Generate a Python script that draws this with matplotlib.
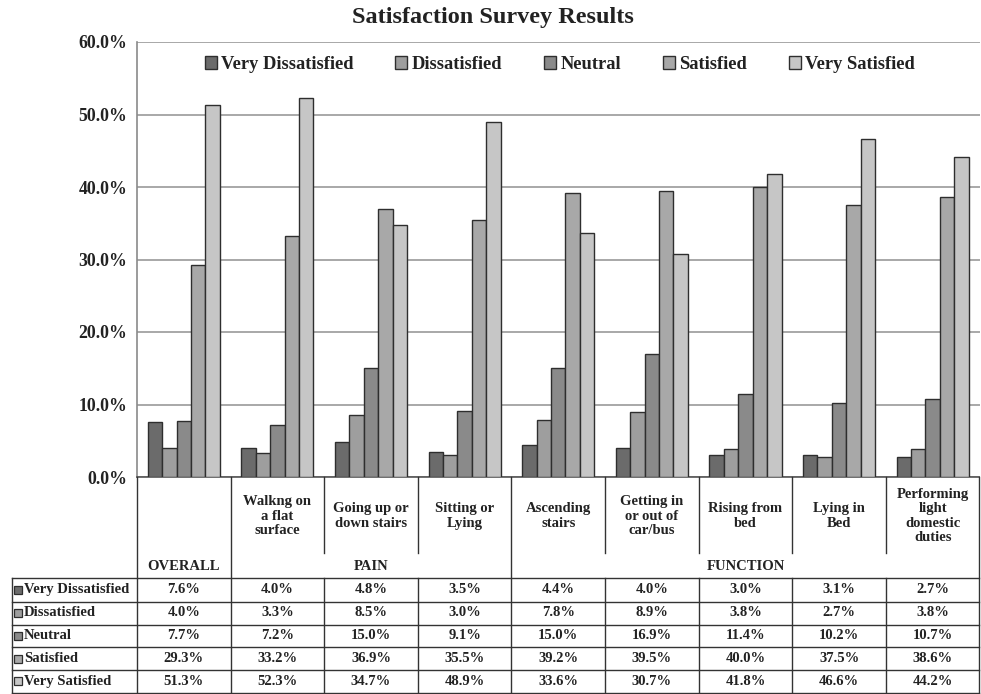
import matplotlib
matplotlib.use("Agg")
import matplotlib.pyplot as plt
import matplotlib.transforms as mtransforms
from matplotlib.lines import Line2D
import numpy as np

plt.rcParams['font.family'] = ['Liberation Serif', 'DejaVu Serif']
plt.rcParams['font.weight'] = 'bold'

# ---- data ----
series = ["Very Dissatisfied", "Dissatisfied", "Neutral", "Satisfied", "Very Satisfied"]
categories = ["", "Walkng on\na flat\nsurface", "Going up or\ndown stairs", "Sitting or\nLying",
              "Ascending\nstairs", "Getting in\nor out of\ncar/bus", "Rising from\nbed",
              "Lying in\nBed", "Performing\nlight\ndomestic\nduties"]
groups = ["OVERALL", "PAIN", "FUNCTION"]
group_spans = [(0, 0), (1, 3), (4, 8)]
very_dissatisfied = [7.6, 4.0, 4.8, 3.5, 4.4, 4.0, 3.0, 3.1, 2.7]
dissatisfied = [4.0, 3.3, 8.5, 3.0, 7.8, 8.9, 3.8, 2.7, 3.8]
neutral = [7.7, 7.2, 15.0, 9.1, 15.0, 16.9, 11.4, 10.2, 10.7]
satisfied = [29.3, 33.2, 36.9, 35.5, 39.2, 39.5, 40.0, 37.5, 38.6]
very_satisfied = [51.3, 52.3, 34.7, 48.9, 33.6, 30.7, 41.8, 46.6, 44.2]
values = [very_dissatisfied, dissatisfied, neutral, satisfied, very_satisfied]
yticks = [0, 10, 20, 30, 40, 50, 60]

colors = ["#6b6b6b", "#9e9e9e", "#8a8a8a", "#a8a8a8", "#c6c6c6"]
edge = "#2e2e2e"
txt = "#222222"

W, H = 981, 694
fig = plt.figure(figsize=(W / 100, H / 100), dpi=100)
ax_left, ax_right, ax_top, ax_bot = 137, 979.5, 42, 477
ax = fig.add_axes([ax_left / W, 1 - ax_bot / H, (ax_right - ax_left) / W, (ax_bot - ax_top) / H])

n = len(categories)
x = np.arange(n)
bw = 0.154
for k, (name, vals) in enumerate(zip(series, values)):
    ax.bar(x + (k - 2) * bw, vals, width=bw, color=colors[k], edgecolor=edge,
           linewidth=1.0, label=name, zorder=3)

ax.set_xlim(-0.5, n - 0.5)
ax.set_ylim(0, 60)
ax.set_yticks(yticks)
ax.set_yticklabels([f"{v:.1f}%" for v in yticks], fontsize=12.8, fontweight='bold', color=txt)
ax.set_xticks([])
ax.yaxis.grid(True, color="#9a9a9a", linewidth=1.2, zorder=0)
ax.tick_params(axis='y', length=0, pad=7)
for s in ['top', 'right']:
    ax.spines[s].set_visible(False)
ax.spines['left'].set_color("#8a8a8a")
ax.spines['left'].set_linewidth(1.2)
ax.spines['bottom'].set_color("#555555")
ax.spines['bottom'].set_linewidth(1.2)

leg = ax.legend(loc='center', bbox_to_anchor=(0.502, 0.948), ncol=5, frameon=False,
                fontsize=13.3, handlelength=0.65, handleheight=0.65, handletextpad=0.25,
                columnspacing=2.25, borderaxespad=0)
for t in leg.get_texts():
    t.set_fontweight('bold')
    t.set_color(txt)

fig.text(0.502, 1 - 18 / H, "Satisfaction Survey Results", ha='center', va='center',
         fontsize=17.5, fontweight='bold', color=txt)

# ---- table below ----
tr = mtransforms.blended_transform_factory(ax.transData, fig.transFigure)
def fy(py):
    return 1 - py / H

colw_px = (ax_right - ax_left) / n
left_x = -0.5 - (ax_left - 12) / colw_px
lc = "#333333"
lw = 1.0

def line(xs, ys):
    fig.add_artist(Line2D(xs, [fy(v) for v in ys], transform=tr, color=lc, linewidth=lw, clip_on=False))

row_lines = [578.3, 601.5, 624.5, 647.3, 670.0, 692.5]
for yy in row_lines:
    line([left_x, n - 0.5], [yy, yy])
line([left_x, left_x], [row_lines[0], row_lines[-1]])
group_bounds = [-0.5] + [g[1] + 0.5 for g in group_spans]
for b in np.arange(-0.5, n, 1.0):
    if any(abs(b - g) < 1e-6 for g in group_bounds):
        line([b, b], [ax_bot, row_lines[-1]])
    else:
        line([b, b], [ax_bot, 553])
        line([b, b], [row_lines[0], row_lines[-1]])

tfs = 10.5
for i, c in enumerate(categories):
    if c:
        fig.text(i, fy(516), c, transform=tr, ha='center', va='center', fontsize=tfs,
                 fontweight='bold', linespacing=1.14, color=txt)
for g, (a, b) in zip(groups, group_spans):
    fig.text((a + b) / 2, fy(567), g, transform=tr, ha='center', va='center', fontsize=tfs,
             fontweight='bold', color=txt)

for r, (name, vals) in enumerate(zip(series, values)):
    yc = (row_lines[r] + row_lines[r + 1]) / 2
    fig.add_artist(Line2D([left_x + 0.065], [fy(yc)], transform=tr, marker='s', markersize=5.5,
                          markerfacecolor=colors[r], markeredgecolor=edge, markeredgewidth=0.9,
                          linestyle='none', clip_on=False))
    fig.text(left_x + 0.125, fy(yc), name, transform=tr, ha='left', va='center', fontsize=tfs,
             fontweight='bold', color=txt)
    for i, v in enumerate(vals):
        fig.text(i, fy(yc), f"{v:.1f}%", transform=tr, ha='center', va='center', fontsize=tfs,
                 fontweight='bold', color=txt)

fig.savefig("out.png", dpi=100, facecolor='white')
